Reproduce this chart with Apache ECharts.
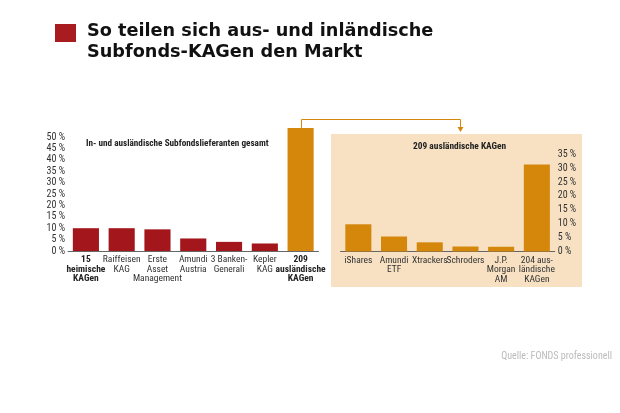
<!DOCTYPE html>
<html><head><meta charset="utf-8">
<script src="https://cdn.jsdelivr.net/npm/echarts@6/dist/echarts.min.js"></script>
<style>html,body{margin:0;padding:0;background:#fff}#c{width:620px;height:413px}</style>
</head><body><div id="c"></div>
<script>
const leftCategories = ['15\nheimische\nKAGen','Raiffeisen\nKAG','Erste\nAsset\nManagement','Amundi\nAustria','3 Banken-\nGenerali','Kepler\nKAG','209\nausländische\nKAGen'];
const leftValues = [10, 10, 9.5, 5.5, 4, 3.3, 54];
const leftBold = [0, 6];
const rightCategories = ['iShares','Amundi\nETF','Xtrackers','Schroders','J.P.\nMorgan\nAM','204 aus-\nländische\nKAGen'];
const rightValues = [9.8, 5.4, 3.3, 1.8, 1.7, 31.3];
const leftTicks = {min: 0, max: 55, interval: 5, labelMax: 50};
const rightTicks = {min: 0, max: 35, interval: 5};
const titleText = 'So teilen sich aus- und inländische\nSubfonds-KAGen den Markt';
const leftTitle = 'In- und ausländische Subfondslieferanten gesamt';
const rightTitle = '209 ausländische KAGen';
const sourceText = 'Quelle: FONDS professionell';

const RED = '#a3161b', ORANGE = '#d5870c', PANEL = '#f7e1c2';
const NARROW = '"Roboto Condensed","Liberation Sans",sans-serif';

const chart = echarts.init(document.getElementById('c'));
const axisLabelBase = {fontFamily: NARROW, fontSize: 9.5, color: '#333', lineHeight: 9.5};

chart.setOption({
  animation: false,
  backgroundColor: '#fff',
  grid: [
    {left: 68, top: 125.6, width: 250.5, height: 125.4},
    {left: 340.5, top: 154.3, width: 214.2, height: 97.2}
  ],
  xAxis: [
    {type: 'category', gridIndex: 0, data: leftCategories,
     axisLine: {lineStyle: {color: '#666', width: 1}}, axisTick: {show: false},
     axisLabel: Object.assign({}, axisLabelBase, {interval: 0, margin: 4,
       formatter: (v, i) => leftBold.includes(i) ? v.split('\n').map(s => '{b|' + s + '}').join('\n') : v,
       rich: {b: {fontWeight: 'bold', fontFamily: NARROW, fontSize: 9.5, color: '#222', lineHeight: 9.5}}})},
    {type: 'category', gridIndex: 1, data: rightCategories,
     axisLine: {lineStyle: {color: '#666', width: 1}}, axisTick: {show: false},
     axisLabel: Object.assign({}, axisLabelBase, {interval: 0, margin: 4})}
  ],
  yAxis: [
    {type: 'value', gridIndex: 0, min: leftTicks.min, max: leftTicks.max, interval: leftTicks.interval,
     splitLine: {show: false}, axisLine: {show: false}, axisTick: {show: false},
     axisLabel: Object.assign({}, axisLabelBase, {fontSize: 10, margin: 3, formatter: v => v <= leftTicks.labelMax ? v + ' %' : ''})},
    {type: 'value', gridIndex: 1, position: 'right', min: rightTicks.min, max: rightTicks.max, interval: rightTicks.interval,
     splitLine: {show: false}, axisLine: {show: false}, axisTick: {show: false},
     axisLabel: Object.assign({}, axisLabelBase, {fontSize: 10, margin: 3, formatter: v => v + ' %'})}
  ],
  series: [
    {type: 'bar', xAxisIndex: 0, yAxisIndex: 0, barCategoryGap: '27%',
     data: leftValues.map((v, i) => ({value: v, itemStyle: {color: i === leftValues.length - 1 ? ORANGE : RED}}))},
    {type: 'bar', xAxisIndex: 1, yAxisIndex: 1, barCategoryGap: '27%', itemStyle: {color: ORANGE}, data: rightValues}
  ]
});

// connector from the last left bar to the right panel
const barTop = chart.convertToPixel({xAxisIndex: 0, yAxisIndex: 0}, [leftValues.length - 1, leftValues[leftValues.length - 1]]);
const cx = Math.round(barTop[0]) + 0.5;
const lineY = 119.5, tx = 460.5, ty = 131;

chart.setOption({
  graphic: [
    {type: 'rect', z: -10, shape: {x: 331, y: 134, width: 251, height: 153}, style: {fill: PANEL}},
    {type: 'rect', shape: {x: 55, y: 24, width: 21, height: 18}, style: {fill: '#a81c20'}},
    {type: 'text', left: 87, top: 21, style: {text: titleText, font: 'bold 17.7px "DejaVu Sans", Verdana, sans-serif', lineHeight: 21, fill: '#111'}},
    {type: 'text', left: 86, top: 139, style: {text: leftTitle, font: 'bold 9.2px ' + NARROW, fill: '#222'}},
    {type: 'text', left: 413, top: 142, style: {text: rightTitle, font: 'bold 9.4px ' + NARROW, fill: '#222'}},
    {type: 'text', right: 8, top: 351, style: {text: sourceText, font: '10px ' + NARROW, fill: '#bbb'}},
    {type: 'polyline', shape: {points: [[cx, barTop[1]], [cx, lineY], [tx, lineY], [tx, ty - 3]]}, style: {stroke: ORANGE, lineWidth: 1, fill: null}},
    {type: 'polygon', shape: {points: [[tx - 3, ty - 4], [tx + 3, ty - 4], [tx, ty + 1]]}, style: {fill: ORANGE}}
  ]
});
</script></body></html>
